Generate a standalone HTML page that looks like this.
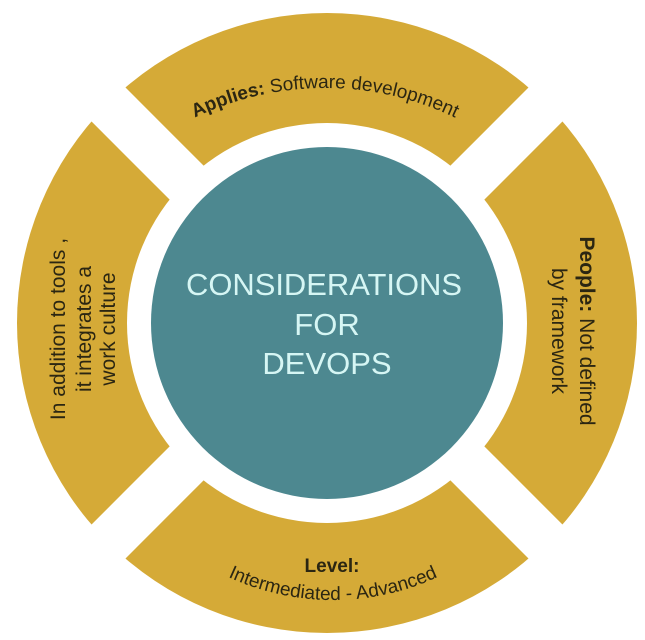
<!DOCTYPE html>
<html><head><meta charset="utf-8"><style>html,body{margin:0;padding:0;background:#fff}svg{display:block}</style></head>
<body>
<svg width="645" height="640" viewBox="0 0 645 640" xmlns="http://www.w3.org/2000/svg" font-family="Liberation Sans, sans-serif">
<circle cx="327" cy="323" r="310" fill="#d5aa37"/>
<g transform="rotate(45 327 323)"><rect x="-100" y="299" width="860" height="48" fill="#fff"/></g>
<g transform="rotate(-45 327 323)"><rect x="-100" y="299" width="860" height="48" fill="#fff"/></g>
<circle cx="327" cy="323" r="200" fill="#fff"/>
<circle cx="327" cy="323" r="176" fill="#4d8890"/>
<defs>
<path id="top" d="M 25 388 A 300 300 0 0 1 625 388" />
<path id="bot" d="M 83 350 A 250 250 0 0 0 583 350" />
</defs>
<text font-size="19" fill="#2b2612"><textPath href="#top" startOffset="50%" text-anchor="middle"><tspan font-weight="bold">Applies:</tspan> Software development</textPath></text>
<text font-size="19" fill="#2b2612"><textPath href="#bot" startOffset="50%" text-anchor="middle">Intermediated - Advanced</textPath></text>
<text x="332" y="572" font-size="19" font-weight="bold" fill="#2b2612" text-anchor="middle">Level:</text>
<g transform="translate(85 329) rotate(-90)" font-size="21" fill="#2b2612" text-anchor="middle">
<text x="0" y="-20">In addition to tools ,</text>
<text x="0" y="6">it integrates a</text>
<text x="0" y="30">work culture</text>
</g>
<g transform="translate(572 331) rotate(90)" font-size="21" fill="#2b2612" text-anchor="middle">
<text x="0" y="-8"><tspan font-weight="bold">People:</tspan> Not defined</text>
<text x="0" y="20">by framework</text>
</g>
<g fill="#d6f6f4" font-size="31" text-anchor="middle">
<text x="324" y="295" textLength="276" lengthAdjust="spacingAndGlyphs">CONSIDERATIONS</text>
<text x="327" y="335">FOR</text>
<text x="327" y="374">DEVOPS</text>
</g>
</svg>
</body></html>
